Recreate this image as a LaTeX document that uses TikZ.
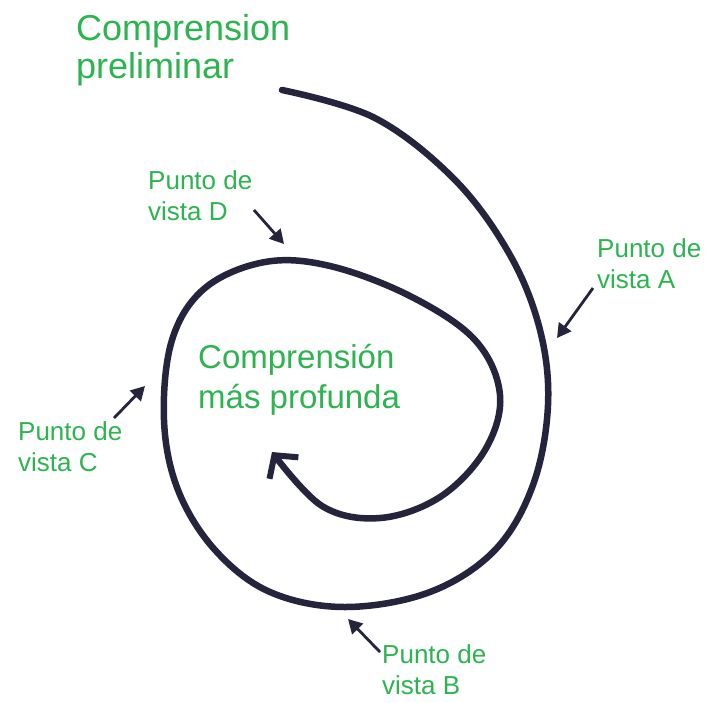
\documentclass[tikz,border=0pt]{standalone}
\usepackage{fontspec}
\setmainfont{Liberation Sans}
\usetikzlibrary{arrows.meta}
\definecolor{ink}{HTML}{25243D}
\definecolor{marker}{HTML}{2DB34F}
\tikzset{
  spiral/.style={draw=ink, line width=6.5pt, line cap=round, line join=round},
  pointer/.style={draw=ink, line width=2.8pt, -{Triangle[length=14pt,width=15pt]}},
  bigtext/.style={text=marker, font=\fontsize{36}{38}\selectfont, align=left, anchor=north west, inner sep=0pt},
  midtext/.style={text=marker, font=\fontsize{33}{40}\selectfont, align=left, anchor=north west, inner sep=0pt},
  smalltext/.style={text=marker, font=\fontsize{26}{31}\selectfont, align=left, anchor=north west, inner sep=0pt},
}
\begin{document}
\begin{tikzpicture}[x=1pt,y=-1pt]
\useasboundingbox[fill=white] (0,0) rectangle (708,702);
% spiral
\draw[spiral, -{Straight Barb[length=16pt,width=36pt,line width=6pt]}]
  plot[smooth, tension=0.6] coordinates {
  (282,90) (375,118) (455,180) (510,255) (540,330) (548,405) (533,485) (495,550)
  (430,592) (345,607) (270,592) (215,550) (178,490) (164,420) (172,340)
  (205,288) (265,262) (330,266) (410,296) (475,340) (500,395) (485,450)
  (440,497) (380,518) (322,506) (272,452)};
% labels
\node[bigtext] (pre) at (76,14) {Comprension\\preliminar};
\node[midtext] (mas) at (198,344) {Comprensión\\más profunda};
\node[smalltext] (lD) at (148,170) {Punto de\\vista D};
\node[smalltext] (lA) at (597,238) {Punto de\\vista A};
\node[smalltext] (lC) at (18,421) {Punto de\\vista C};
\node[smalltext] (lB) at (382,644) {Punto de\\vista B};
% pointers
\coordinate (sD) at (254,210); \coordinate (tD) at (284,244);
\coordinate (sA) at (593,288); \coordinate (tA) at (557,338);
\coordinate (sC) at (114,418); \coordinate (tC) at (145,386);
\coordinate (sB) at (380,652); \coordinate (tB) at (348,619);
\draw[pointer] (sD) -- (tD);
\draw[pointer] (sA) -- (tA);
\draw[pointer] (sC) -- (tC);
\draw[pointer] (sB) -- (tB);
\end{tikzpicture}
\end{document}
